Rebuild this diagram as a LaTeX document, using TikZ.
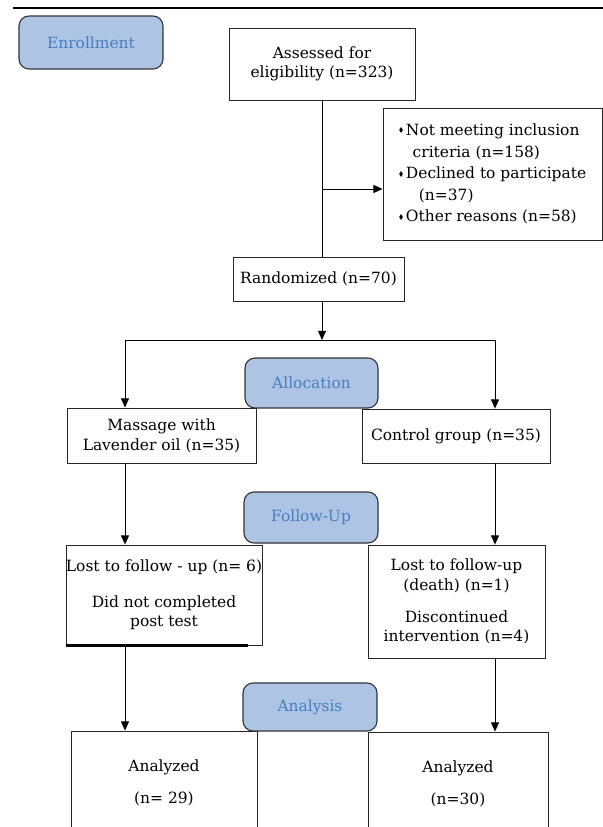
\documentclass[tikz,border=0pt]{standalone}
\usepackage{fontspec}
\setmainfont{DejaVu Serif}
\usepackage{amssymb}
\usepackage{graphicx}
\usetikzlibrary{arrows.meta}
\definecolor{phasefill}{HTML}{ADC4E5}
\definecolor{phasetext}{HTML}{4A7EBF}
\definecolor{phaseline}{HTML}{333333}
\newcommand{\itm}{\raisebox{0.3ex}{\scalebox{0.45}{$\blacklozenge$}}\,}

\begin{document}
\begin{tikzpicture}[
        box/.style={draw=black!85, rectangle, align=center, inner sep=2pt, line width=0.6pt, font=\fontsize{11}{14}\selectfont},
        phase/.style={draw=phaseline, rectangle, rounded corners=0.25cm, fill=phasefill, text=phasetext, line width=0.8pt, minimum width=3.35cm, font=\fontsize{11}{14}\selectfont},
        arrow/.style={-{Triangle[length=2.3mm, width=2mm]}, line width=0.7pt}
    ]
        \useasboundingbox (0,0) rectangle (15.075,-20.675);
        \clip (0,0) rectangle (15.075,-20.675);
        \draw[line width=0.8pt] (0.325,-0.2) -- (15.075,-0.2);

        \node[box, minimum width=4.65cm, minimum height=1.8cm] (assessed) at (8.05,-1.6) {Assessed for \\ eligibility (n=323)};

        \node[box, align=left, minimum width=5.475cm, minimum height=3.3cm, font=\fontsize{11}{15.4}\selectfont] (excl) at (12.3125,-4.35) {\itm Not meeting inclusion \\ \hspace*{0.9em}criteria (n=158) \\ \itm Declined to participate \\ \hspace*{1.3em}(n=37) \\ \itm Other reasons (n=58)};

        \node[box, minimum width=4.275cm, minimum height=1.1cm] (random) at (7.9625,-6.975) {Randomized (n=70)};

        \node[box, minimum width=4.725cm, minimum height=1.375cm] (massage) at (4.0375,-10.8875) {Massage with \\ Lavender oil (n=35)};
        \node[box, minimum width=4.7cm, minimum height=1.35cm] (control) at (11.4,-10.9) {Control group (n=35)};

        \node[box, inner xsep=0pt, minimum width=4.85cm, minimum height=2.5cm] (lostL) at (4.1,-14.875) {Lost to follow - up (n= 6) \\[0.4cm] Did not completed \\ post test};
        \node[box, minimum width=4.425cm, minimum height=2.825cm] (lostR) at (11.4125,-15.0375) {Lost to follow-up \\ (death) (n=1) \\[0.3cm] Discontinued \\ intervention (n=4)};

        \node[box, minimum width=4.65cm, minimum height=2.6cm] (anaL) at (4.1,-19.575) {Analyzed \\[0.3cm] (n= 29)};
        \node[box, minimum width=4.5cm, minimum height=2.6cm] (anaR) at (11.45,-19.6) {Analyzed \\[0.3cm] (n=30)};

        % phase labels
        \node[phase, minimum width=3.6cm, minimum height=1.325cm] (enroll) at (2.275,-1.0625) {Enrollment};
        \node[phase, minimum width=3.325cm, minimum height=1.25cm] (alloc) at (7.7875,-9.575) {Allocation};
        \node[phase, minimum height=1.275cm] (follow) at (7.775,-12.9375) {Follow-Up};
        \node[phase, minimum height=1.2cm] (analysis) at (7.75,-17.675) {Analysis};

        \coordinate (branch) at (8.05,-4.725);
        \coordinate (split) at (8.05,-8.5);
        \coordinate (lcol) at (3.125,-8.5);
        \coordinate (rcol) at (12.375,-8.5);

        \draw[line width=0.7pt] (assessed.south) -- (assessed.south |- random.north);
        \draw[arrow] (branch) -- (branch -| excl.west);
        \draw[arrow] (assessed.south |- random.south) -- (split);
        \draw[line width=0.7pt] (lcol) -- (rcol);
        \draw[arrow] (lcol) -- (lcol |- massage.north);
        \draw[arrow] (rcol) -- (rcol |- control.north);
        \draw[arrow] (lcol |- massage.south) -- (lcol |- lostL.north);
        \draw[arrow] (rcol |- control.south) -- (rcol |- lostR.north);
        \draw[arrow] (lcol |- lostL.south) -- (lcol |- anaL.north);
        \draw[arrow] (rcol |- lostR.south) -- (rcol |- anaR.north);
        \draw[line width=2pt] (lostL.south west) -- ([xshift=-0.35cm]lostL.south east);
    \end{tikzpicture}
\end{document}
